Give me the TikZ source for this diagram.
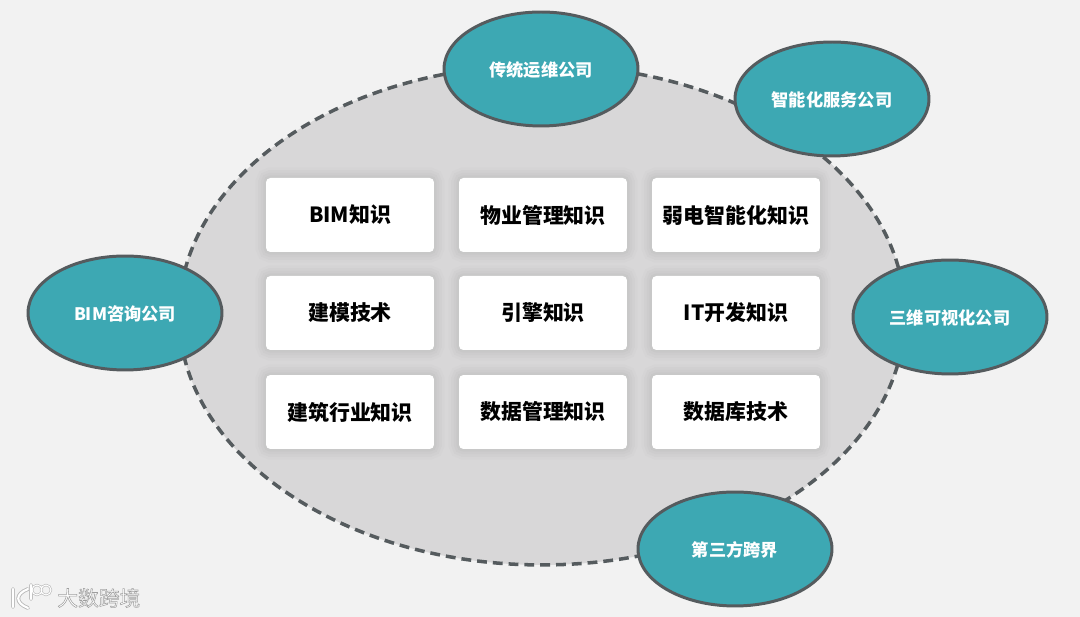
\documentclass[tikz,border=0pt]{standalone}
\usepackage{fontspec}
\newfontfamily\cjk{Noto Sans CJK SC}
\usetikzlibrary{shapes.geometric}
\definecolor{pagegray}{HTML}{F2F2F2}
\definecolor{fieldgray}{HTML}{D8D7D8}
\definecolor{rimgray}{HTML}{555B5E}
\definecolor{tealfill}{HTML}{3DA8B3}
\newcommand{\GlowText}[1]% grey outline round white letters
{\special{pdf:code q 2 Tr .3 w .62 .62 .62 RG}#1\special{pdf:code Q}}
\tikzset{
    company/.style={ellipse, draw=rimgray, line width=1.7pt, fill=tealfill, text=white,
        minimum width=3.88cm, minimum height=2.28cm, inner sep=0pt, text depth=-1pt,
        font=\cjk\bfseries\fontsize{9.8}{11}\selectfont},
    card/.style={rectangle, rounded corners=2.5pt, fill=white, minimum width=3.36cm,
        minimum height=1.48cm, inner sep=0pt, text=black,
        preaction={draw=black, opacity=.012, line width=12pt},
        preaction={draw=black, opacity=.014, line width=9pt},
        preaction={draw=black, opacity=.016, line width=6pt},
        preaction={draw=black, opacity=.02, line width=3pt},
        font=\cjk\bfseries\fontsize{11.9}{14}\selectfont}
}
\begin{document}
\begin{tikzpicture}[x=0.02cm,y=-0.02cm]

    \useasboundingbox[fill=pagegray] (0,0) rectangle (1080,617);

    %\draw (0,0) grid (1080,617);

    \node[ellipse, draw=rimgray, fill=fieldgray, line width=2pt, dash pattern=on 5.6pt off 3.4pt,
        minimum width=14.52cm, minimum height=10cm, inner sep=0pt] (field) at (542,315) {};

    \node[card] (bim) at (350,215) {BIM知识};
    \node[card] (wuye) at (543,215) {物业管理知识};
    \node[card] (ruodian) at (736,215) {弱电智能化知识};

    \node[card] (jianmo) at (350,313) {建模技术};
    \node[card] (yinqing) at (543,313) {引擎知识};
    \node[card] (itdev) at (736,313) {IT开发知识};

    \node[card] (jianzhu) at (350,412) {建筑行业知识};
    \node[card] (shuju) at (543,412) {数据管理知识};
    \node[card] (shujuku) at (736,412) {数据库技术};

    \node[company] (yunwei) at (541,69) {传统运维公司};
    \node[company] (zhineng) at (832,99) {智能化服务公司};
    \node[company] (bimco) at (125,313) {BIM咨询公司};
    \node[company] (sanwei) at (950,317) {三维可视化公司};
    \node[company] (kuajie) at (735,549) {第三方跨界};

    % watermark
    \node[text=white, font=\cjk\fontsize{11.8}{14}\selectfont, anchor=west, inner sep=0pt] (wm) at (57,598) {\GlowText{大数跨境}};
    \draw[black!28, line width=2.2pt, line cap=round] (13,589) -- (13,607)
        (28,589) .. controls (15,594) and (15,603) .. (28,608)
        (31,585) -- (31,599);
    \draw[black!28, line width=1.3pt] (37,590) circle (5) (46,590) circle (5);
    \draw[white, line width=1.2pt, line cap=round] (13,589) -- (13,607)
        (28,589) .. controls (15,594) and (15,603) .. (28,608)
        (31,585) -- (31,599);
    \draw[white, line width=.6pt] (37,590) circle (5) (46,590) circle (5);

\end{tikzpicture}
\end{document}
